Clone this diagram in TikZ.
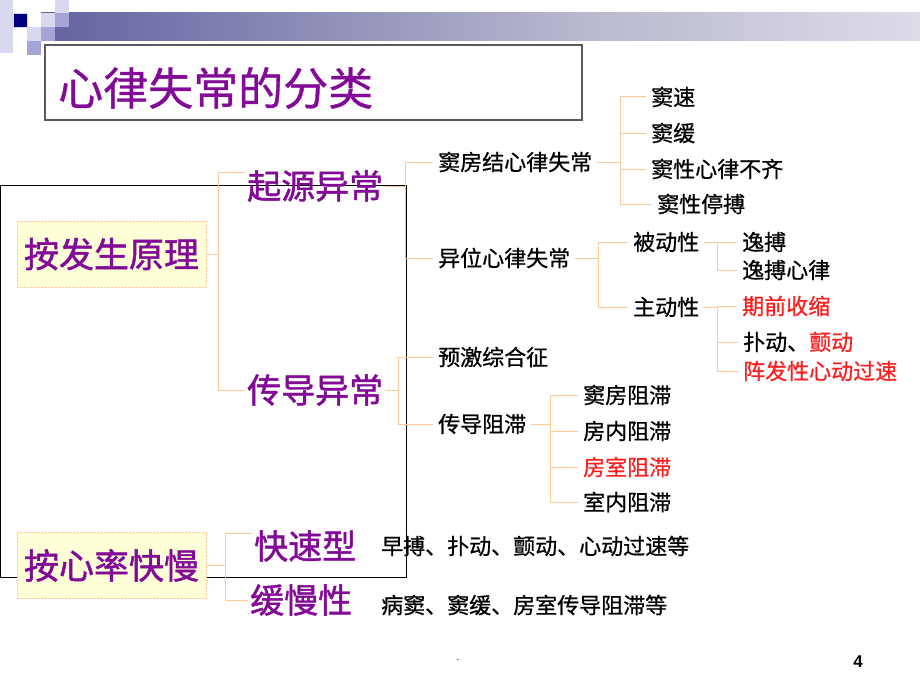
\documentclass[tikz,border=0pt]{standalone}
\usepackage{fontspec}
\newfontfamily\cjk[FakeBold=0.7]{Noto Sans CJK SC}
\newfontfamily\cjkhead[FakeBold=1.3]{Noto Sans CJK SC}
\newfontfamily\pagefont{Liberation Sans}

\definecolor{kpurple}{RGB}{130,10,150}
\definecolor{kpeach}{RGB}{255,200,150}
\definecolor{kyellow}{RGB}{255,255,215}
\definecolor{kred}{RGB}{255,30,30}
\definecolor{kgray}{RGB}{90,90,90}
\definecolor{barnavy}{RGB}{28,28,122}
\definecolor{barmid}{RGB}{112,112,168}
\definecolor{barlight}{RGB}{182,182,206}
\definecolor{barpale}{RGB}{230,230,238}
\definecolor{sqpale}{RGB}{216,216,238}
\definecolor{sqmid}{RGB}{164,164,214}
\definecolor{sqdark}{RGB}{0,0,128}

\pgfdeclarehorizontalshading{topbar}{100bp}{color(0bp)=(barnavy); color(30bp)=(barmid); color(55bp)=(barlight); color(80bp)=(barpale); color(100bp)=(white)}

\tikzset{
  link/.style={draw=kpeach, line width=1pt},
  rootbox/.style={draw=kpeach, densely dotted, fill=kyellow, minimum width=189pt, minimum height=66pt, inner sep=0pt, text=kpurple, font=\cjkhead\fontsize{35}{38}\selectfont},
  head/.style={anchor=west, inner xsep=2pt, inner ysep=0pt, text=kpurple, font=\cjkhead\fontsize{34}{36}\selectfont},
  item/.style={anchor=west, inner xsep=5pt, inner ysep=0pt, font=\cjk\fontsize{22}{24}\selectfont},
  note/.style={item, inner xsep=0pt},
  hot/.style={text=kred},
}

\begin{document}
\begin{tikzpicture}[x=1pt,y=-1pt]
	\useasboundingbox (0,0) rectangle (920,690);
	\fill[white] (0,0) rectangle (920,690);
	% header bar and squares
	\shade[shading=topbar] (41,13) rectangle (920,41);
	\fill[sqpale] (0,0) rectangle (13,53);
	\filldraw[fill=sqdark, draw=sqpale] (13,13) rectangle (27,27);
	\fill[sqpale] (27,27) rectangle (41,41);
	\fill[sqmid] (27,41) rectangle (41,55);
	\fill[sqpale] (41,13) rectangle (55,27);
	\fill[sqmid] (41,27) rectangle (55,41);
	\fill[sqpale] (55,0) rectangle (69,13);
	\fill[sqmid] (55,13) rectangle (69,27);
	% title
	\draw[kgray, line width=1.2pt] (45,45) rectangle (582,120);
	\node[anchor=west, inner sep=0pt, text=kpurple, font=\cjk\fontsize{45}{48}\selectfont] (title) at (58,88) {心律失常的分类};
	% frame
	\draw[black, line width=0.8pt] (0,185) rectangle (406,577);

	% main groups
	\node[rootbox] (yl) at (111.5,254) {按发生原理};
	\node[rootbox] (xl) at (111.5,565.5) {按心率快慢};
	\node[head] (qy) at (245,186) {起源异常};
	\node[head] (cd) at (245,390) {传导异常};
	\node[head] (ks) at (252,546) {快速型};
	\node[head] (hm) at (248,600) {缓慢性};
	\node[note] (ksn) at (381,546) {早搏、扑动、颤动、心动过速等};
	\node[note] (hmn) at (381,605) {病窦、窦缓、房室传导阻滞等};

	% second level
	\node[item] (dfj) at (433,162) {窦房结心律失常};
	\node[item] (yw) at (433,258) {异位心律失常};
	\node[item] (yj) at (433,357) {预激综合征};
	\node[item] (cdzz) at (433,424) {传导阻滞};

	% leaves
	\node[item] (ds) at (646,97) {窦速};
	\node[item] (dh) at (646,133) {窦缓};
	\node[item] (dxbq) at (646,169) {窦性心律不齐};
	\node[item] (dxtb) at (652,204) {窦性停搏};
	\node[item] (bd) at (628,242) {被动性};
	\node[item] (zd) at (628,307) {主动性};
	\node[item] (yb) at (737,242) {逸搏};
	\node[item] (ybxl) at (737,270) {逸搏心律};
	\node[item, hot] (qq) at (737,306) {期前收缩};
	\node[item] (pc) at (738,342) {扑动、\textcolor{kred}{颤动}};
	\node[item, hot] (zf) at (738,371) {阵发性心动过速};
	\node[item] (fz) at (578,395) {窦房阻滞};
	\node[item] (fn) at (578,431) {房内阻滞};
	\node[item, hot] (fs) at (578,467) {房室阻滞};
	\node[item] (sn) at (578,502) {室内阻滞};

	% connectors
	\draw[link] (yl.east) -- ++(12,0) coordinate (ylj);
	\draw[link] (ylj) |- ([yshift=14pt]qy.west);
	\draw[link] (ylj) |- (cd.west);
	\draw[link] (xl.east) -- ++(19,0) coordinate (xlj);
	\draw[link] (xlj) |- ([yshift=13pt]ks.west);
	\draw[link] (xlj) |- (hm.west);
	\draw[link] (qy.east) -- ++(20,0) coordinate (qyj);
	\draw[link] (qyj) |- (dfj.west);
	\draw[link] (qyj) |- (yw.west);
	\draw[link] (cd.east) -- ++(13,0) coordinate (cdj);
	\draw[link] (cdj) |- (yj.west);
	\draw[link] (cdj) |- (cdzz.west);
	\draw[link] (dfj.east) -- ++(23,0) coordinate (dfjj);
	\foreach \n in {ds,dh,dxbq,dxtb}
		\draw[link] (dfjj) |- (\n.west);
	\draw[link] (yw.east) -- ++(23,0) coordinate (ywj);
	\draw[link] (ywj) |- (bd.west);
	\draw[link] (ywj) |- (zd.west);
	\draw[link] (bd.east) -- ++(13,0) coordinate (bdj);
	\draw[link] (bdj) |- (yb.west);
	\draw[link] (bdj) |- (ybxl.west);
	\draw[link] (zd.east) -- ++(13,0) coordinate (zdj);
	\foreach \n in {qq,pc,zf}
		\draw[link] (zdj) |- (\n.west);
	\draw[link] (cdzz.east) -- ++(19,0) coordinate (cdzzj);
	\foreach \n in {fz,fn,fs,sn}
		\draw[link] (cdzzj) |- (\n.west);

	% page mark
	\node[font=\pagefont\fontsize{10}{10}\selectfont] (dot) at (458,660) {.};
	\node[font=\pagefont\bfseries\fontsize{17}{18}\selectfont] (pg) at (858,662) {4};
\end{tikzpicture}
\end{document}
